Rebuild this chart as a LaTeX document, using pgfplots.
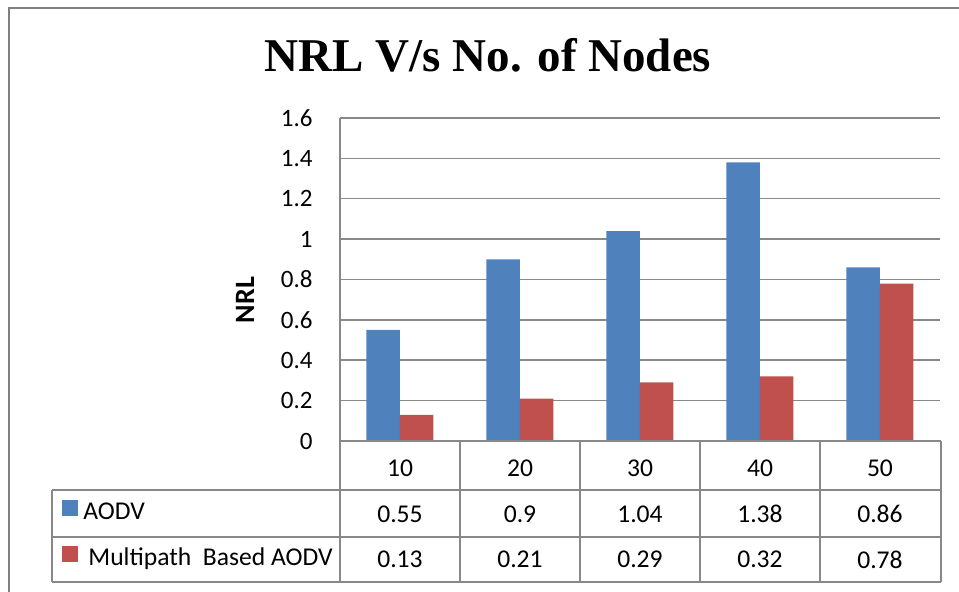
\documentclass[border=0pt]{standalone}
\usepackage{fontspec}
\setmainfont{Carlito}
\newfontfamily\titlefont{Liberation Serif}
\usepackage{pgfplots}
\pgfplotsset{compat=1.18}
\definecolor{aodv}{HTML}{4F81BD}
\definecolor{mp}{HTML}{C0504D}
\definecolor{gridc}{HTML}{888888}
\definecolor{framec}{HTML}{7F7F7F}
\begin{document}
\begin{tikzpicture}
\begin{scope}[x=0.5pt,y=-0.5pt]
\useasboundingbox (0,0) rectangle (959,592);
\draw[framec, line width=0.8pt] (9,592) -- (9,8) -- (959,8);
\node[anchor=base] at (488,72) {\titlefont\bfseries\fontsize{23.5}{28}\selectfont NRL V/s No. of Nodes};
\node[rotate=90] at (245,300) {\bfseries\fontsize{14}{16}\selectfont NRL};
\end{scope}
\begin{axis}[
  at={(170pt,-220.5pt)}, anchor=south west,
  scale only axis, width=300pt, height=161.5pt,
  xmin=-0.5, xmax=4.5, ymin=0, ymax=1.6,
  xtick={0,1,2,3,4}, xticklabels={10,20,30,40,50},
  ytick={0,0.2,0.4,0.6,0.8,1,1.2,1.4,1.6},
  yticklabels={0,0.2,0.4,0.6,0.8,1,1.2,1.4,1.6},
  major tick length=0pt,
  axis line style={draw=none},
  ymajorgrids, grid style={gridc, line width=0.75pt},
  ybar=0pt, bar width=16.75pt,
  tick label style={text=black},
  yticklabel style={anchor=east, inner sep=0pt, xshift=-13.5pt, font=\fontsize{12.5}{14}\selectfont},
  xticklabel style={anchor=center, inner sep=0pt, yshift=-13.5pt, font=\fontsize{12.8}{14}\selectfont},
  clip=false,
  area legend, legend cell align=left,
  legend image code/.code={\fill[#1] (0pt,-1.5pt) rectangle (8pt,6.5pt);},
  legend style={at={(-0.4633,-0.182)}, anchor=north west, draw=none, fill=none,
    inner sep=0pt, row sep=10.5pt, font=\fontsize{12.8}{14}\selectfont,
    nodes={inner sep=0pt, text height=9pt, text depth=3pt},
    /tikz/every odd column/.append style={column sep=2.5pt}},
]
\addplot[fill=aodv, draw=none] coordinates {(0,0.55) (1,0.9) (2,1.04) (3,1.38) (4,0.86)};
\addlegendentry{AODV}
\addplot[fill=mp, draw=none] coordinates {(0,0.13) (1,0.21) (2,0.29) (3,0.32) (4,0.78)};
\addlegendentry{\hspace{2.5pt}Multipath\ \ Based AODV}
\end{axis}
\begin{scope}[x=0.5pt,y=-0.5pt]
\draw[gridc, line width=0.75pt] (340,441) -- (941,441);
\draw[gridc, line width=0.75pt] (52,490) -- (941,490);
\draw[gridc, line width=0.75pt] (52,537) -- (941,537);
\draw[gridc, line width=0.75pt] (52,582) -- (941,582);
\draw[gridc, line width=0.75pt] (340,118) -- (340,582);
\draw[gridc, line width=0.75pt] (52,490) -- (52,582);
\foreach \xx in {460,580,700,820,941} {\draw[gridc, line width=0.75pt] (\xx,441) -- (\xx,582);}
\begin{scope}[every node/.style={font=\fontsize{12.8}{14}\selectfont}]
\node at (400,514) {0.55};
\node at (520,514) {0.9};
\node at (640,514) {1.04};
\node at (760,514) {1.38};
\node at (880,514) {0.86};
\node at (400,559.5) {0.13};
\node at (520,559.5) {0.21};
\node at (640,559.5) {0.29};
\node at (760,559.5) {0.32};
\node at (880,559.5) {0.78};
\end{scope}
\end{scope}
\end{tikzpicture}
\end{document}
